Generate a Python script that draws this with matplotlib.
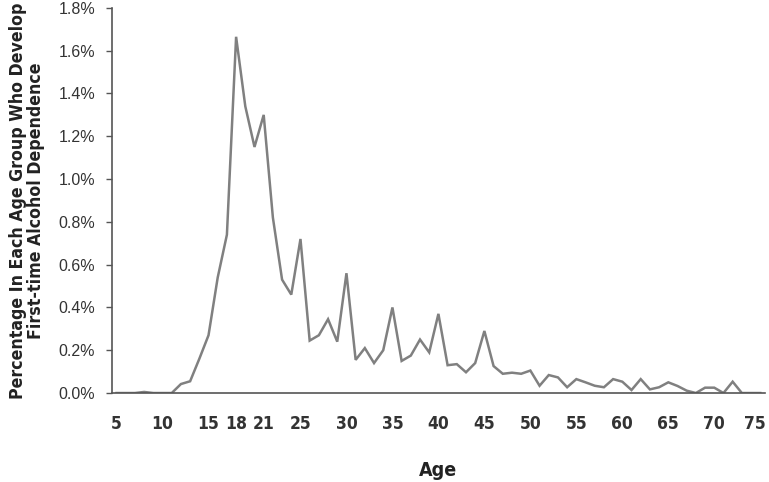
import matplotlib
matplotlib.use("Agg")
import matplotlib.pyplot as plt
import matplotlib.transforms as mtransforms
from matplotlib.ticker import FuncFormatter

# ages 5..75 and percentage developing first-time alcohol dependence
ages = list(range(5, 76))
pct = [
    0.0, 0.0, 0.0, 0.005, 0.0, 0.0, 0.0,            # 5-11
    0.042, 0.055, 0.16, 0.27, 0.54, 0.74,           # 12-17
    1.665, 1.34, 1.15, 1.30, 0.82, 0.53, 0.46,      # 18-24
    0.72, 0.245, 0.27, 0.345, 0.24, 0.56,           # 25-30
    0.155, 0.21, 0.14, 0.20, 0.40, 0.15,            # 31-36
    0.175, 0.25, 0.19, 0.37, 0.13, 0.135,           # 37-42
    0.097, 0.14, 0.29, 0.126, 0.09, 0.095,          # 43-48
    0.09, 0.105, 0.034, 0.084, 0.073, 0.027,        # 49-54
    0.065, 0.05, 0.034, 0.027, 0.065, 0.053,        # 55-60
    0.014, 0.065, 0.017, 0.027, 0.05, 0.033,        # 61-66
    0.011, 0.0, 0.025, 0.025, 0.0, 0.053,           # 67-72
    0.0, 0.0, 0.0,                                  # 73-75
]

xtick_ages = [5, 10, 15, 18, 21, 25, 30, 35, 40, 45, 50, 55, 60, 65, 70, 75]
yticks = [0.0, 0.2, 0.4, 0.6, 0.8, 1.0, 1.2, 1.4, 1.6, 1.8]

narrow = dict(family="DejaVu Sans", stretch="condensed", weight="bold")

fig = plt.figure(figsize=(7.69, 4.82), dpi=100)
ax = fig.add_axes([0.1456, 0.1846, 0.849, 0.799])

ax.plot(ages, pct, color="#808080", linewidth=1.8, solid_joinstyle="miter")

ax.set_xlim(4.5, 75.5)
ax.set_ylim(0, 1.8)

ax.spines["top"].set_visible(False)
ax.spines["right"].set_visible(False)
for s in ("left", "bottom"):
    ax.spines[s].set_color("#555555")
    ax.spines[s].set_linewidth(1.2)

ax.set_yticks(yticks)
ax.yaxis.set_major_formatter(FuncFormatter(lambda v, p: "{:.1f}%".format(v)))
ax.tick_params(axis="y", direction="out", length=4, width=1, color="#555555",
               pad=8, labelsize=11.5, labelcolor="#333333")
for lbl in ax.get_yticklabels():
    lbl.set_fontfamily("Liberation Sans")

ax.set_xticks(xtick_ages)
ax.set_xticklabels([str(a) for a in xtick_ages], fontsize=12.5, color="#333333",
                   **narrow)
ax.tick_params(axis="x", length=0, pad=16)

# last label sits on the figure edge; nudge it in a little
last = ax.get_xticklabels()[-1]
last.set_transform(last.get_transform() +
                   mtransforms.ScaledTranslation(-5 / 100, 0, fig.dpi_scale_trans))

ax.set_xlabel("Age", fontsize=14, color="#222222", labelpad=20, **narrow)
ax.set_ylabel("Percentage In Each Age Group Who Develop\nFirst-time Alcohol Dependence",
              fontsize=12.7, color="#222222", linespacing=0.95, labelpad=10,
              **narrow)

fig.savefig("out.png", dpi=100)
